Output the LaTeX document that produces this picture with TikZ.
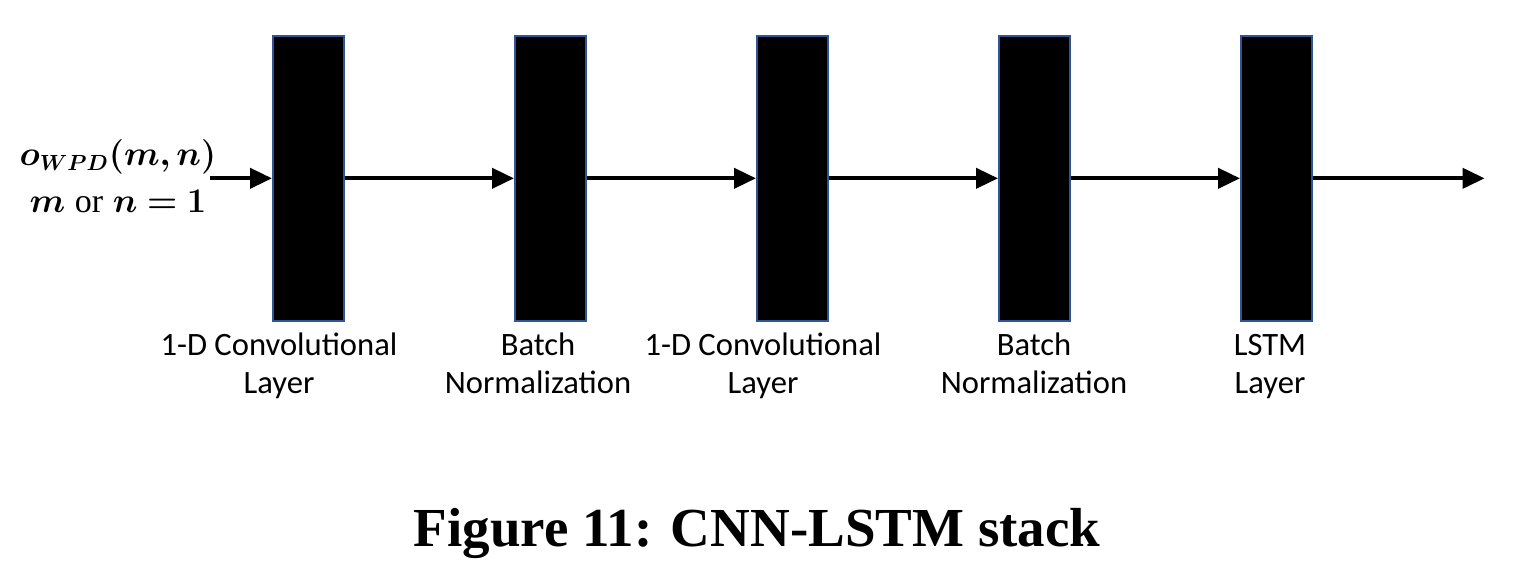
\documentclass[tikz,border=0pt]{standalone}
\usepackage{amsmath}
\usepackage{bm}
\usepackage{fontspec}
\newfontfamily\labfont{Carlito}
\newfontfamily\capfont{Liberation Serif}
\usetikzlibrary{arrows.meta}
\definecolor{boxedge}{HTML}{2F5597}
\begin{document}
\begin{tikzpicture}[x=0.5pt,y=-0.5pt,
  layerbox/.style={draw=boxedge,line width=0.8pt,fill=black,minimum width=35.5pt,minimum height=142.5pt,inner sep=0pt,anchor=north west},
  flow/.style={line width=2pt,-{Triangle[length=11pt,width=10pt]}},
  lab/.style={font=\labfont\fontsize{16.3}{19}\selectfont,align=center,anchor=base,inner sep=0pt},
]
\useasboundingbox (0,0) rectangle (1518,586);
\node[layerbox] (b1) at (272,35) {};
\node[layerbox] (b2) at (514,35) {};
\node[layerbox] (b3) at (756,35) {};
\node[layerbox] (b4) at (998,35) {};
\node[layerbox] (b5) at (1240,35) {};
\coordinate (in) at ([xshift=-31pt]b1.west);
\coordinate (out) at ([xshift=86pt]b5.east);
\draw[flow] (in) -- (b1.west);
\draw[flow] (b1.east) -- (b2.west);
\draw[flow] (b2.east) -- (b3.west);
\draw[flow] (b3.east) -- (b4.west);
\draw[flow] (b4.east) -- (b5.west);
\draw[flow] (b5.east) -- (out);
\node[lab] (l1) at (279,393) {1-D Convolutional\\Layer};
\node[lab] (l2) at (538,393) {Batch\\Normalization};
\node[lab] (l3) at (763,393) {1-D Convolutional\\Layer};
\node[lab] (l4) at (1034,393) {Batch\\Normalization};
\node[lab] (l5) at (1270,393) {LSTM\\Layer};
\node[font=\fontsize{16}{23.5}\selectfont,align=center,anchor=base,inner sep=0pt] (inlab) at (118,212)
  {$\bm{o_{WPD}(m,n)}$\\$\bm{m}$ {\capfont\fontsize{17}{20}\selectfont or} $\bm{n=1}$};
\node[font=\capfont\bfseries\fontsize{27.5}{33}\selectfont,anchor=base,inner sep=0pt] (cap) at (757,546) {Figure 11: CNN-LSTM stack};
\end{tikzpicture}
\end{document}
